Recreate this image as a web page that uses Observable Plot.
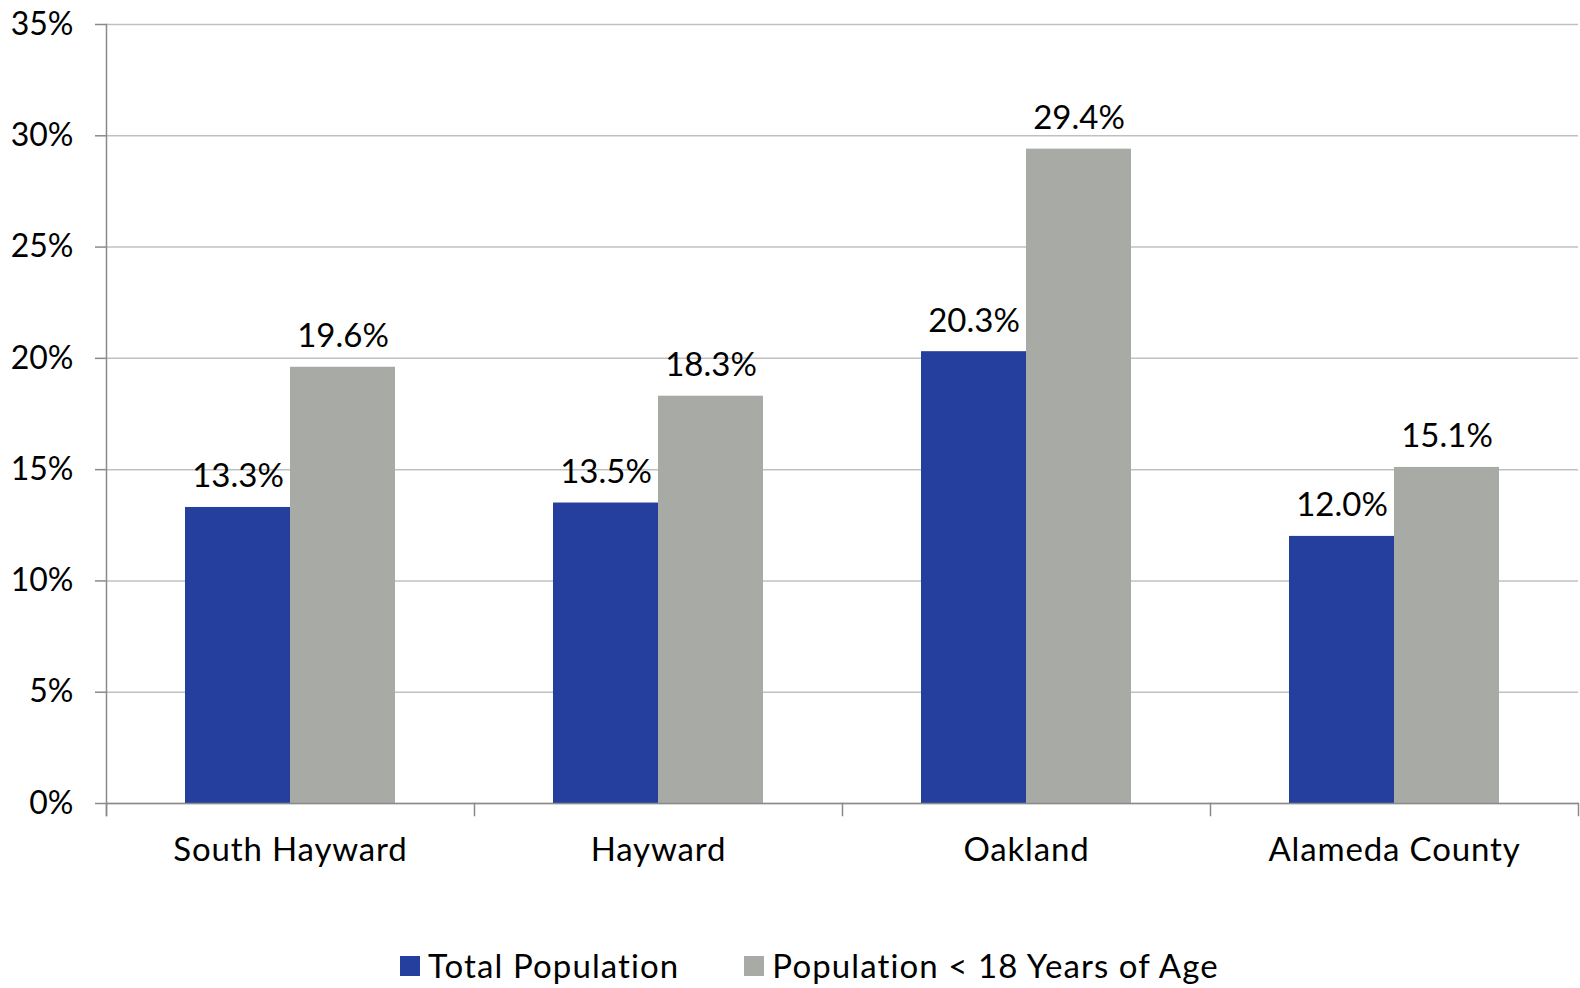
<!DOCTYPE html>
<html>
<head>
<meta charset="utf-8">
<script src="https://cdn.jsdelivr.net/npm/d3@7"></script>
<script src="https://cdn.jsdelivr.net/npm/@observablehq/plot@0.6"></script>
<style>
  html, body { margin: 0; padding: 0; background: #fff; }
  body { width: 1580px; height: 988px; position: relative; font-family: Lato, "Open Sans", sans-serif; }
  #legend { position: absolute; left: 400px; top: 949px; display: flex; align-items: center; font-size: 33px; letter-spacing: 1.1px; line-height: 1; color: #000; }
  #legend .item { display: flex; align-items: center; margin-right: 65px; }
  #legend .sw { width: 20px; height: 20px; margin-right: 8px; }
  g[aria-label="fx-axis tick label"] text { letter-spacing: 0.85px; }
</style>
</head>
<body>
<div id="chart"></div>
<div id="legend"></div>
<script>
const categories = ["South Hayward", "Hayward", "Oakland", "Alameda County"];
const series = ["Total Population", "Population < 18 Years of Age"];
const totalPopulation = [13.3, 13.5, 20.3, 12.0];
const under18 = [19.6, 18.3, 29.4, 15.1];
const yTicks = [0, 5, 10, 15, 20, 25, 30, 35];
const colors = ["#253F9E", "#A8AAA5"];

const data = categories.flatMap((c, i) => [
  {category: c, series: series[0], value: totalPopulation[i]},
  {category: c, series: series[1], value: under18[i]}
]);

const axisGrey = "#8a8a8a";

const chart = Plot.plot({
  width: 1580,
  height: 900,
  marginLeft: 106,
  marginRight: 2,
  marginTop: 24,
  marginBottom: 97,
  style: {fontFamily: "Lato, 'Open Sans', sans-serif", fontSize: "32px", color: "#000", background: "#fff"},
  fx: {domain: categories, padding: 0, label: null, axis: null},
  x: {domain: series, paddingInner: 0, paddingOuter: 0.75, axis: null},
  y: {domain: [0, 35], label: null},
  color: {domain: series, range: colors},
  marks: [
    Plot.gridY(yTicks, {stroke: "#c0c0c0", strokeOpacity: 1, strokeWidth: 1.5}),
    Plot.barY(data, {fx: "category", x: "series", y: "value", fill: "series"}),
    Plot.text(data, {fx: "category", x: "series", y: "value", text: d => d.value.toFixed(1) + "%", lineAnchor: "bottom", dy: -20, fontSize: 33, fill: "#000"}),
    Plot.ruleY([0], {stroke: axisGrey, strokeWidth: 1.5}),
    Plot.frame({anchor: "left", facetAnchor: "left", stroke: axisGrey, strokeWidth: 1.5, insetBottom: -12}),
    Plot.frame({anchor: "left", stroke: axisGrey, strokeWidth: 1.5, insetTop: 779, insetBottom: -12}),
    Plot.frame({anchor: "right", facetAnchor: "right", stroke: axisGrey, strokeWidth: 1.5, insetTop: 779, insetBottom: -12}),
    Plot.axisY(yTicks, {tickFormat: d => d + "%", tickSize: 11, tickPadding: 22, stroke: axisGrey, strokeWidth: 1.5, label: null, fontSize: 32}),
    Plot.axisFx({anchor: "bottom", tickSize: 0, tickPadding: 34, label: null, fontSize: 33})
  ]
});
document.getElementById("chart").appendChild(chart);

const legend = document.getElementById("legend");
series.forEach((s, i) => {
  const item = document.createElement("div");
  item.className = "item";
  const sw = document.createElement("div");
  sw.className = "sw";
  sw.style.background = colors[i];
  const label = document.createElement("span");
  label.textContent = s;
  item.appendChild(sw);
  item.appendChild(label);
  legend.appendChild(item);
});
</script>
</body>
</html>
